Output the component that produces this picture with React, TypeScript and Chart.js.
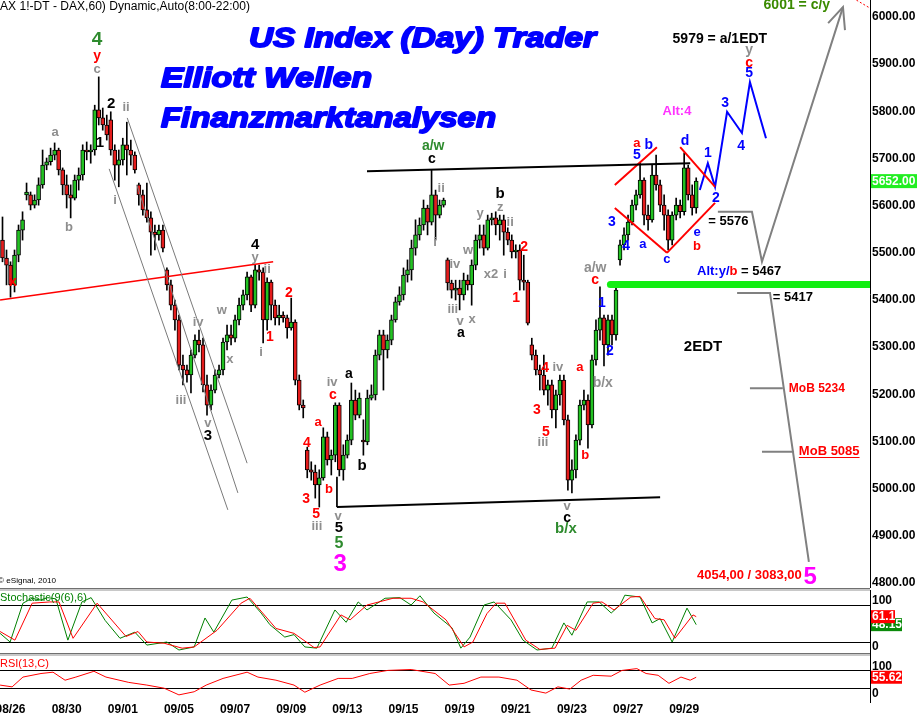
import React, { useEffect, useRef } from "react";
import { Chart, registerables } from "chart.js";

Chart.register(...registerables);

const FONT = "'Liberation Sans', Arial, Helvetica, sans-serif";

// ---------------- hourly DAX bars ----------------
const barOpen = [
  5527, 5489, 5474, 5432, 5495, 5548, 5623, 5623, 5601, 5612,
  5644, 5686, 5693, 5707, 5718, 5676, 5644, 5623, 5616, 5654,
  5665, 5718, 5714, 5718, 5803, 5786, 5771, 5782, 5718, 5686,
  5697, 5729, 5718, 5707, 5644, 5623, 5591, 5574, 5544, 5538,
  5548, 5464, 5432, 5389, 5358, 5262, 5252, 5241, 5283, 5315,
  5305, 5220, 5177, 5209, 5241, 5252, 5311, 5326, 5319, 5358,
  5389, 5411, 5449, 5389, 5464, 5459, 5358, 5438, 5389, 5362,
  5368, 5362, 5341, 5353, 5230, 5177, 5082, 5040, 5035, 5008,
  5023, 5110, 5061, 5071, 5177, 5040, 5071, 5103, 5188, 5156,
  5103, 5099, 5192, 5199, 5283, 5326, 5294, 5315, 5358, 5396,
  5411, 5453, 5464, 5510, 5538, 5559, 5595, 5565, 5623, 5580,
  5601, 5485, 5436, 5421, 5425, 5411, 5442, 5432, 5474, 5527,
  5538, 5510, 5570, 5574, 5559, 5570, 5544, 5527, 5502, 5506,
  5442, 5438, 5305, 5283, 5252, 5241, 5209, 5220, 5167, 5199,
  5230, 5146, 5018, 5040, 5103, 5177, 5188, 5135, 5273, 5336,
  5362, 5305, 5358, 5326, 5485, 5517, 5538, 5565, 5601, 5623,
  5654, 5580, 5570, 5665, 5644, 5601, 5580, 5527, 5580, 5601,
  5587, 5680, 5623, 5595,
];
const barHigh = [
  5576, 5506, 5481, 5506, 5559, 5587, 5648, 5629, 5623, 5659,
  5718, 5701, 5722, 5733, 5722, 5680, 5665, 5644, 5665, 5680,
  5729, 5735, 5729, 5813, 5873, 5807, 5792, 5799, 5729, 5718,
  5743, 5777, 5739, 5714, 5648, 5633, 5648, 5587, 5559, 5559,
  5559, 5468, 5442, 5400, 5368, 5283, 5262, 5294, 5326, 5336,
  5319, 5241, 5220, 5252, 5262, 5319, 5347, 5347, 5368, 5404,
  5421, 5459, 5453, 5474, 5474, 5468, 5447, 5442, 5400, 5389,
  5375, 5368, 5404, 5358, 5241, 5188, 5088, 5057, 5050, 5040,
  5129, 5120, 5082, 5182, 5182, 5093, 5114, 5224, 5209, 5203,
  5146, 5209, 5220, 5294, 5336, 5336, 5326, 5368, 5406, 5428,
  5468, 5485, 5527, 5570, 5574, 5612, 5601, 5676, 5633, 5612,
  5616, 5489, 5442, 5442, 5442, 5457, 5453, 5485, 5538, 5559,
  5559, 5580, 5584, 5587, 5580, 5580, 5553, 5538, 5517, 5517,
  5495, 5442, 5319, 5294, 5262, 5283, 5230, 5230, 5209, 5241,
  5241, 5156, 5061, 5114, 5188, 5209, 5199, 5283, 5358, 5428,
  5368, 5368, 5368, 5432, 5527, 5553, 5580, 5612, 5633, 5690,
  5659, 5601, 5686, 5707, 5654, 5623, 5591, 5587, 5616, 5612,
  5712, 5686, 5644, 5659,
];
const barLow = [
  5481, 5432, 5406, 5417, 5481, 5527, 5612, 5591, 5595, 5601,
  5637, 5676, 5686, 5697, 5665, 5623, 5595, 5574, 5612, 5633,
  5654, 5697, 5690, 5707, 5771, 5760, 5739, 5707, 5654, 5640,
  5686, 5665, 5686, 5669, 5601, 5580, 5565, 5495, 5506, 5527,
  5502, 5421, 5379, 5336, 5252, 5220, 5226, 5203, 5277, 5290,
  5205, 5156, 5167, 5203, 5235, 5241, 5294, 5305, 5311, 5347,
  5379, 5400, 5375, 5383, 5442, 5309, 5336, 5358, 5347, 5347,
  5353, 5319, 5336, 5220, 5167, 5150, 5023, 5018, 4980, 4961,
  5018, 5050, 5029, 5057, 5027, 5018, 5065, 5093, 5146, 5150,
  5071, 5093, 5188, 5188, 5273, 5209, 5277, 5305, 5353, 5389,
  5400, 5438, 5442, 5495, 5527, 5548, 5538, 5559, 5527, 5574,
  5597, 5421, 5404, 5400, 5379, 5400, 5421, 5389, 5464, 5510,
  5495, 5506, 5559, 5538, 5527, 5495, 5517, 5489, 5489, 5421,
  5421, 5347, 5273, 5241, 5209, 5199, 5177, 5150, 5129, 5177,
  5135, 4997, 4991, 5023, 5093, 5167, 5086, 5129, 5262, 5315,
  5260, 5283, 5305, 5315, 5474, 5506, 5527, 5559, 5591, 5616,
  5559, 5548, 5565, 5633, 5587, 5548, 5506, 5517, 5570, 5574,
  5580, 5612, 5580, 5584,
];
const barClose = [
  5489, 5474, 5432, 5495, 5548, 5570, 5629, 5601, 5612, 5644,
  5686, 5693, 5707, 5718, 5676, 5644, 5623, 5616, 5654, 5665,
  5718, 5714, 5718, 5803, 5786, 5771, 5750, 5718, 5686, 5697,
  5729, 5718, 5707, 5676, 5623, 5591, 5574, 5544, 5538, 5548,
  5510, 5432, 5389, 5358, 5262, 5252, 5241, 5283, 5315, 5305,
  5220, 5177, 5209, 5241, 5252, 5311, 5326, 5319, 5358, 5389,
  5411, 5449, 5389, 5464, 5459, 5358, 5438, 5389, 5362, 5368,
  5362, 5341, 5353, 5230, 5177, 5171, 5040, 5035, 5008, 5023,
  5110, 5061, 5071, 5177, 5040, 5071, 5103, 5188, 5156, 5192,
  5099, 5192, 5199, 5283, 5326, 5294, 5315, 5358, 5396, 5411,
  5453, 5464, 5510, 5538, 5559, 5595, 5565, 5623, 5580, 5601,
  5612, 5436, 5421, 5425, 5411, 5442, 5432, 5474, 5527, 5538,
  5510, 5570, 5574, 5559, 5570, 5544, 5527, 5502, 5506, 5442,
  5438, 5351, 5283, 5252, 5241, 5209, 5220, 5167, 5199, 5230,
  5146, 5018, 5040, 5103, 5177, 5188, 5135, 5273, 5336, 5362,
  5305, 5358, 5326, 5421, 5517, 5538, 5565, 5601, 5623, 5654,
  5580, 5570, 5665, 5644, 5601, 5580, 5527, 5580, 5601, 5587,
  5680, 5623, 5595, 5652,
];
const lastPrice = 5652;

const priceTicks = [4800, 4900, 5000, 5100, 5200, 5300, 5400, 5500, 5600, 5700, 5800, 5900, 6000];
const dateTickIdx = [2, 16, 30, 44, 58, 72, 86, 100, 114, 128, 142, 156, 170];
const dateTickLabels = ["08/26", "08/30", "09/01", "09/05", "09/07", "09/09", "09/13", "09/15", "09/19", "09/21", "09/23", "09/27", "09/29"];

// ---------------- indicators ----------------
const stochKIdx = [-0.6, 1.9, 5.1, 7.4, 9.4, 11.3, 13.3, 16.3, 19.8, 22.1, 25.6, 29.3, 33.0, 36.0, 41.0, 44.0, 47.8, 50.5, 52.7, 57.2, 61.0, 64.5, 66.7, 70.4, 72.7, 75.4, 78.4, 82.9, 85.7, 88.7, 90.9, 95.4, 99.1, 101.9, 104.1, 107.6, 112.1, 114.3, 116.6, 120.1, 122.6, 126.8, 129.8, 133.3, 137.0, 140.0, 142.0, 145.8, 148.8, 151.8, 154.0, 155.2, 159.0, 162.0, 164.0, 167.0, 170.7, 173.0];
const stochK = [34, 20, 83, 91, 88, 92, 90, 23, 85, 92, 55, 26, 36, 15, 20, 7, 12, 59, 36, 88, 93, 67, 48, 28, 32, 12, 10, 72, 52, 85, 72, 91, 92, 80, 95, 67, 43, 10, 28, 80, 85, 56, 23, 7, 10, 51, 31, 85, 85, 67, 80, 96, 93, 51, 58, 20, 75, 48.15];
const stochDIdx = [-0.6, 3.1, 7.4, 11.8, 14.1, 17.6, 23.6, 30.8, 33.8, 36.0, 40.3, 44.8, 47.8, 53.5, 59.5, 61.7, 68.2, 72.7, 77.7, 79.2, 84.4, 86.7, 90.9, 97.4, 101.9, 104.9, 110.6, 115.1, 117.3, 120.8, 123.1, 125.3, 130.5, 134.0, 137.8, 140.8, 143.0, 147.3, 149.5, 152.5, 156.7, 159.0, 162.7, 165.0, 167.7, 172.2, 173.0];
const stochD = [37, 23, 83, 85, 85, 26, 83, 29, 37, 20, 18, 10, 12, 39, 83, 91, 42, 34, 11, 12, 64, 56, 80, 91, 91, 85, 56, 12, 20, 66, 83, 83, 23, 8, 10, 47, 39, 83, 85, 72, 93, 94, 58, 56, 26, 64, 61.1];
const rsiIdx = [-0.6, 2.4, 5.1, 9.6, 12.6, 15.6, 18.3, 22.8, 25.8, 31.5, 36.0, 40.3, 44.0, 47.8, 50.8, 55.0, 61.0, 63.7, 68.2, 72.7, 75.4, 79.2, 83.7, 87.2, 91.6, 96.1, 101.9, 107.9, 111.4, 115.1, 119.3, 123.8, 128.3, 131.8, 135.5, 138.5, 141.5, 144.3, 147.3, 151.8, 154.5, 158.2, 160.5, 163.5, 166.2, 169.2, 171.5, 173.0];
const rsiVal = [38, 34, 56, 64, 67, 49, 56, 69, 56, 44, 38, 31, 16, 23, 38, 53, 67, 56, 49, 38, 22, 38, 53, 53, 64, 71, 73, 64, 38, 42, 56, 56, 49, 27, 20, 34, 29, 49, 60, 58, 71, 75, 64, 60, 42, 56, 49, 55.62];
const stochKLast = 48.15;
const stochDLast = 61.1;
const rsiLast = 55.62;

// ---------------- analysis lines (bar index, price) ----------------
const upperChannel = [[90.9, 5673], [171.5, 5690]];
const lowerChannel = [[83.4, 4961], [164.0, 4982]];
const lowerChannelTick = [[83.4, 5025], [83.4, 4961]];
const xLine = [[-0.6, 5400], [67.5, 5481]];
const fallA = [[26.6, 5678], [56.2, 4955]];
const fallB = [[31.1, 5786], [61.0, 5054]];
const fallC = [[33.5, 5644], [58.7, 4991]];
const triUL = [[152.7, 5644], [163.2, 5724]];
const triLL = [[152.7, 5595], [165.7, 5500]];
const triLR = [[165.7, 5500], [177.7, 5606]];
const triUR = [[169.0, 5724], [177.7, 5640]];
const bluePath = [[173.9, 5633], [175.9, 5690], [177.7, 5640], [180.7, 5799], [184.4, 5754], [186.4, 5862], [190.4, 5743]];
const upPath = [[178.4, 5587], [186.9, 5587], [189.4, 5481], [209.6, 6021]];
const arrowHead = [[205.9, 5987], [209.6, 6021], [210.1, 5972]];
const downPath = [[183.2, 5415], [191.4, 5415], [201.1, 4845]];
const mob1Tick = [[186.4, 5213], [194.6, 5213]];
const mob2Tick = [[189.4, 5078], [197.4, 5078]];
const supportBar = [[151.6, 5433], [218, 5433]];
const redDotted = [[212.1, 6040], [216.3, 6019]];

const X_MIN = -0.623;
const X_MAX = 216.34;
const PRICE_MIN = 4789.4;
const PRICE_MAX = 6036;

const GRAY = "#8e8e8e";
const RED = "#ff0000";
const BLK = "#000000";
const BLUE = "#0000ff";
const GRN = "#2e8b2e";
const MAG = "#ff00ff";

// text, bar index, price, colour, font size
const waveLabels: [string, number, number, string, number][] = [
  ["4", 23.6, 5951, GRN, 19], ["y", 23.6, 5917, RED, 14], ["c", 23.6, 5888, GRAY, 13],
  ["a", 13.1, 5756, GRAY, 13], ["b", 16.6, 5553, GRAY, 13],
  ["2", 27.1, 5816, BLK, 15], ["1", 24.3, 5733, BLK, 15],
  ["ii", 30.8, 5809, GRAY, 13], ["i", 28.1, 5612, GRAY, 13],
  ["x", 2.6, 5438, RED, 14],
  ["4", 63.0, 5517, BLK, 15], ["y", 63.0, 5491, GRAY, 13], ["ii", 66.0, 5464, GRAY, 13],
  ["2", 71.4, 5415, RED, 14], ["1", 66.7, 5322, RED, 14], ["i", 64.5, 5288, GRAY, 13],
  ["iv", 48.8, 5353, GRAY, 13], ["iii", 44.5, 5188, GRAY, 13], ["v", 51.2, 5139, GRAY, 13],
  ["3", 51.2, 5112, BLK, 15], ["w", 54.7, 5377, GRAY, 13], ["x", 56.7, 5275, GRAY, 13],
  ["4", 75.9, 5097, RED, 14], ["a", 78.7, 5141, RED, 13], ["3", 75.7, 4978, RED, 14],
  ["5", 78.2, 4946, RED, 14], ["iii", 78.4, 4919, GRAY, 13], ["b", 81.4, 4999, RED, 13],
  ["c", 82.4, 5199, RED, 14], ["iv", 82.2, 5226, GRAY, 13], ["v", 83.7, 4942, GRAY, 13],
  ["5", 83.9, 4917, BLK, 15], ["5", 83.9, 4883, GRN, 16], ["3", 84.2, 4840, MAG, 24],
  ["a", 86.4, 5243, BLK, 14], ["b", 89.7, 5048, BLK, 15],
  ["a/w", 107.4, 5726, GRN, 14], ["c", 107.1, 5699, BLK, 14], ["ii", 109.4, 5637, GRAY, 13],
  ["i", 107.9, 5521, GRAY, 13], ["iv", 112.8, 5476, GRAY, 13], ["iii", 112.3, 5381, GRAY, 13],
  ["v", 114.1, 5355, GRAY, 13], ["a", 114.3, 5330, BLK, 14], ["x", 117.1, 5358, GRAY, 13],
  ["w", 116.1, 5506, GRAY, 13], ["y", 119.1, 5584, GRAY, 13], ["x2", 121.8, 5455, GRAY, 13],
  ["i", 125.3, 5455, GRAY, 13], ["z", 124.1, 5597, GRAY, 13], ["b", 124.1, 5625, BLK, 15],
  ["ii", 126.6, 5565, GRAY, 13], ["2", 130.1, 5512, RED, 14], ["1", 128.1, 5404, RED, 14],
  ["4", 135.3, 5256, RED, 14], ["iv", 138.5, 5258, GRAY, 13], ["3", 133.3, 5167, RED, 14],
  ["5", 135.5, 5120, RED, 14], ["iii", 134.8, 5097, GRAY, 13], ["v", 140.8, 4963, GRAY, 13],
  ["c", 140.8, 4938, BLK, 14], ["b/x", 140.5, 4915, GRN, 15],
  ["a", 144.0, 5256, RED, 13], ["b", 145.3, 5071, RED, 13],
  ["a/w", 147.8, 5468, GRAY, 14], ["c", 147.8, 5442, RED, 14], ["1", 149.5, 5394, BLUE, 14],
  ["2", 151.5, 5292, BLUE, 14], ["b/x", 149.7, 5224, GRAY, 14],
  ["3", 152.0, 5565, BLUE, 14], ["4", 155.5, 5514, BLUE, 14], ["5", 158.2, 5707, BLUE, 14],
  ["a", 158.2, 5731, RED, 13], ["b", 161.2, 5729, BLUE, 14], ["a", 159.7, 5517, BLUE, 13],
  ["c", 165.7, 5485, BLUE, 13], ["d", 170.2, 5737, BLUE, 14], ["e", 173.2, 5544, BLUE, 13],
  ["b", 173.2, 5514, RED, 13],
  ["1", 175.9, 5712, BLUE, 14], ["2", 177.9, 5616, BLUE, 14], ["3", 180.2, 5818, BLUE, 14],
  ["4", 184.2, 5726, BLUE, 14], ["5", 186.2, 5881, BLUE, 14], ["c", 186.2, 5903, RED, 14],
  ["y", 186.2, 5930, GRAY, 14],
  ["Alt:4", 168.2, 5799, "#ff33ff", 13],
  ["5979 = a/1EDT", 178.9, 5953, BLK, 14],
  ["6001 = c/y", 198.1, 6025, "#3a8a00", 14],
  ["2EDT", 174.7, 5300, BLK, 15],
  ["5", 201.4, 4811, MAG, 24],
];

// left-aligned notes: text parts, bar index, price, size, underline
const notes: { parts: [string, string][]; i: number; p: number; s: number; u?: boolean }[] = [
  { parts: [["= 5576", BLK]], i: 176.0, p: 5567, s: 13 },
  { parts: [["Alt:y/", BLUE], ["b", RED], [" = 5467", BLK]], i: 173.2, p: 5461, s: 13 },
  { parts: [["= 5417", BLK]], i: 192.1, p: 5406, s: 13 },
  { parts: [["MoB 5234", RED]], i: 196.1, p: 5213, s: 12 },
  { parts: [["MoB 5085", RED]], i: 198.6, p: 5080, s: 13, u: true },
  { parts: [["4054,00 / 3083,00", RED]], i: 173.2, p: 4817, s: 13 },
];

const UP = "#22c222";
const DOWN = "#e41c1c";

function pts(a: number[][]) {
  return a.map(([x, y]) => ({ x, y }));
}
function lineDs(a: number[][], color: string, width: number, extra: any = {}) {
  return {
    type: "line",
    data: pts(a),
    borderColor: color,
    borderWidth: width,
    pointRadius: 0,
    fill: false,
    tension: 0,
    order: 0,
    ...extra,
  };
}

function fitText(ctx: CanvasRenderingContext2D, text: string, x: number, y: number, width: number, stroke = 0) {
  const w = ctx.measureText(text).width;
  ctx.save();
  ctx.translate(x, y);
  ctx.scale(width / w, 1);
  if (stroke > 0) {
    ctx.lineWidth = stroke;
    ctx.lineJoin = "round";
    ctx.strokeText(text, 0, 0);
  }
  ctx.fillText(text, 0, 0);
  ctx.restore();
}

function rightAxisFit(w: number) {
  return (scale: any) => {
    scale.width = w;
    scale.paddingTop = 0;
    scale.paddingBottom = 0;
  };
}

const mainOverlay = {
  id: "mainOverlay",
  afterDraw(chart: any) {
    const ctx: CanvasRenderingContext2D = chart.ctx;
    const xs = chart.scales.x;
    const ys = chart.scales.y;
    ctx.save();
    // header
    ctx.fillStyle = "#000";
    ctx.textAlign = "left";
    ctx.textBaseline = "middle";
    ctx.font = `12px ${FONT}`;
    fitText(ctx, "AX 1!-DT - DAX,60) Dynamic,Auto(8:00-22:00)", 0, 6.5, 250);
    ctx.font = `8px ${FONT}`;
    fitText(ctx, "\u00a9 eSignal, 2010", -2, 581, 58);
    // titles
    ctx.fillStyle = "#0000ff";
    ctx.strokeStyle = "#0000ff";
    ctx.textBaseline = "alphabetic";
    ctx.font = `italic bold 28px ${FONT}`;
    fitText(ctx, "US Index (Day) Trader", 249, 47, 347, 1.8);
    fitText(ctx, "Elliott Wellen", 161, 87, 211, 1.8);
    fitText(ctx, "Finanzmarktanalysen", 161, 127, 335, 1.8);
    // wave labels
    ctx.textAlign = "center";
    ctx.textBaseline = "middle";
    for (const [t, i, p, c, s] of waveLabels) {
      ctx.font = `bold ${s}px ${FONT}`;
      ctx.fillStyle = c;
      ctx.fillText(t, xs.getPixelForValue(i), ys.getPixelForValue(p));
    }
    // notes
    ctx.textAlign = "left";
    for (const n of notes) {
      ctx.font = `bold ${n.s}px ${FONT}`;
      let x = xs.getPixelForValue(n.i);
      const y = ys.getPixelForValue(n.p);
      const x0 = x;
      for (const [t, c] of n.parts) {
        ctx.fillStyle = c;
        ctx.fillText(t, x, y);
        x += ctx.measureText(t).width;
      }
      if (n.u) {
        ctx.strokeStyle = n.parts[0][1];
        ctx.lineWidth = 1;
        ctx.beginPath();
        ctx.moveTo(x0, Math.round(y + 6) + 0.5);
        ctx.lineTo(x, Math.round(y + 6) + 0.5);
        ctx.stroke();
      }
    }
    // last price box
    const yp = ys.getPixelForValue(lastPrice);
    ctx.fillStyle = "#22ee22";
    ctx.fillRect(871, yp - 7, 46, 14);
    ctx.fillStyle = "#ffffff";
    ctx.font = `bold 12px ${FONT}`;
    ctx.fillText(lastPrice.toFixed(2), 872, yp + 0.5);
    ctx.restore();
  },
};

function panelOverlay(title: string, titleColor: string, titleDy: number, topDy: number, botDy: number, boxes: { v: number; c: string; w: number }[]) {
  return {
    id: "panelOverlay",
    afterDraw(chart: any) {
      const ctx: CanvasRenderingContext2D = chart.ctx;
      const area = chart.chartArea;
      const ys = chart.scales.y;
      ctx.save();
      ctx.textAlign = "left";
      ctx.textBaseline = "middle";
      ctx.font = `11px ${FONT}`;
      ctx.fillStyle = titleColor;
      ctx.fillText(title, 0, area.top + titleDy);
      ctx.font = `bold 12px ${FONT}`;
      ctx.fillStyle = "#000";
      ctx.fillText("100", area.right + 2, area.top + topDy);
      ctx.fillText("0", area.right + 2, area.bottom - botDy);
      for (const b of boxes) {
        const y = ys.getPixelForValue(b.v);
        ctx.fillStyle = b.c;
        ctx.fillRect(area.right + 1, y - 6.5, b.w, 13);
        ctx.fillStyle = "#fff";
        ctx.fillText(String(b.v), area.right + 2, y + 0.5);
      }
      ctx.restore();
    },
  };
}

function mainConfig(): any {
  const wick = barClose.map((_, i) => ({ x: i, y: [barLow[i], barHigh[i]] }));
  const body = barClose.map((_, i) => ({ x: i, y: [barOpen[i], barClose[i]] }));
  const colors = barClose.map((c, i) => (c >= barOpen[i] ? UP : DOWN));
  return {
    type: "bar",
    data: {
      datasets: [
        { type: "bar", data: wick, backgroundColor: "#000", borderWidth: 0, barThickness: 1, grouped: false, order: 3 },
        {
          type: "bar",
          data: body,
          backgroundColor: colors,
          borderColor: "#000",
          borderWidth: 1,
          borderSkipped: false,
          barThickness: 4,
          grouped: false,
          order: 2,
        },
        lineDs(fallA, "#7a7a7a", 1),
        lineDs(fallB, "#7a7a7a", 1),
        lineDs(fallC, "#7a7a7a", 1),
        lineDs(xLine, "#ff0000", 1.5),
        lineDs(upperChannel, "#000", 2),
        lineDs(lowerChannel, "#000", 2),
        lineDs(lowerChannelTick, "#000", 1),
        lineDs(triUL, "#ff0000", 2),
        lineDs(triLL, "#ff0000", 2),
        lineDs(triLR, "#ff0000", 2),
        lineDs(triUR, "#ff0000", 2),
        lineDs(bluePath, "#0000ff", 2),
        lineDs(upPath, "#808080", 2),
        lineDs(arrowHead, "#808080", 2),
        lineDs(downPath, "#808080", 2),
        lineDs(mob1Tick, "#808080", 2),
        lineDs(mob2Tick, "#808080", 2),
        lineDs(supportBar, "#11ee11", 7, { borderCapStyle: "round" }),
        lineDs(redDotted, "#ff0000", 1, { borderDash: [2, 2] }),
      ],
    },
    options: {
      responsive: false,
      maintainAspectRatio: false,
      animation: false,
      devicePixelRatio: 1,
      events: [],
      layout: { padding: 0 },
      plugins: { legend: { display: false }, tooltip: { enabled: false } },
      scales: {
        x: { type: "linear", min: X_MIN, max: X_MAX, display: false, offset: false },
        y: {
          type: "linear",
          position: "right",
          min: PRICE_MIN,
          max: PRICE_MAX,
          grid: { display: false, drawTicks: false, tickLength: 0 },
          border: { display: true, color: "#000", width: 1 },
          afterBuildTicks: (s: any) => {
            s.ticks = priceTicks.map((v) => ({ value: v }));
          },
          afterFit: rightAxisFit(47),
          ticks: {
            padding: 2,
            color: "#000",
            font: { family: FONT, size: 12, weight: "bold" },
            callback: (v: any) => Number(v).toFixed(2),
          },
        },
      },
    },
    plugins: [mainOverlay],
  };
}

function panelConfig(kind: "stoch" | "rsi"): any {
  const isStoch = kind === "stoch";
  const datasets = isStoch
    ? [
        { type: "line", data: stochKIdx.map((x, i) => ({ x, y: stochK[i] })), borderColor: "#008000", borderWidth: 1, pointRadius: 0, tension: 0, order: 1 },
        { type: "line", data: stochDIdx.map((x, i) => ({ x, y: stochD[i] })), borderColor: "#ff0000", borderWidth: 1, pointRadius: 0, tension: 0, order: 0 },
      ]
    : [{ type: "line", data: rsiIdx.map((x, i) => ({ x, y: rsiVal[i] })), borderColor: "#ff0000", borderWidth: 1, pointRadius: 0, tension: 0 }];
  const levels = isStoch ? [20, 80] : [30, 70];
  return {
    type: "line",
    data: { datasets },
    options: {
      responsive: false,
      maintainAspectRatio: false,
      animation: false,
      devicePixelRatio: 1,
      events: [],
      layout: { padding: 0 },
      plugins: { legend: { display: false }, tooltip: { enabled: false } },
      scales: {
        x: isStoch
          ? { type: "linear", min: X_MIN, max: X_MAX, display: false }
          : {
              type: "linear",
              min: X_MIN,
              max: X_MAX,
              grid: { display: false, drawTicks: false, tickLength: 0 },
              border: { display: false },
              afterBuildTicks: (s: any) => {
                s.ticks = dateTickIdx.map((v) => ({ value: v }));
              },
              afterFit: (s: any) => {
                s.height = 20;
                s.paddingLeft = 0;
                s.paddingRight = 0;
              },
              ticks: {
                autoSkip: false,
                maxRotation: 0,
                minRotation: 0,
                padding: 0,
                color: "#000",
                font: { family: FONT, size: 12, weight: "bold" },
                callback: (_v: any, i: number) => dateTickLabels[i],
              },
            },
        y: {
          type: "linear",
          position: "right",
          min: isStoch ? -1.1 : 0,
          max: isStoch ? 104.4 : 105.6,
          grid: { display: true, color: "#000", lineWidth: 1, drawTicks: false, tickLength: 0 },
          border: { display: true, color: "#000", width: 1 },
          afterBuildTicks: (s: any) => {
            s.ticks = levels.map((v) => ({ value: v }));
          },
          afterFit: rightAxisFit(47),
          ticks: { display: false },
        },
      },
    },
    plugins: [
      isStoch
        ? panelOverlay("Stochastic(9(6),6)", "#008000", 8, 11, 8, [
            { v: stochKLast, c: "#0a8a0a", w: 31 },
            { v: stochDLast, c: "#ff0000", w: 24 },
          ])
        : panelOverlay("RSI(13,C)", "#ff0000", 9, 12, 8, [{ v: rsiLast, c: "#ff0000", w: 31 }]),
    ],
  };
}

export default function App() {
  const mainRef = useRef<HTMLCanvasElement>(null);
  const stochRef = useRef<HTMLCanvasElement>(null);
  const rsiRef = useRef<HTMLCanvasElement>(null);

  useEffect(() => {
    document.body.style.margin = "0";
    const c1 = new Chart(mainRef.current as HTMLCanvasElement, mainConfig());
    const c2 = new Chart(stochRef.current as HTMLCanvasElement, panelConfig("stoch"));
    const c3 = new Chart(rsiRef.current as HTMLCanvasElement, panelConfig("rsi"));
    return () => {
      c1.destroy();
      c2.destroy();
      c3.destroy();
    };
  }, []);

  const sep: React.CSSProperties = {
    position: "absolute",
    left: 0,
    width: 870,
    height: 3,
    background: "#c8c8c8",
    borderTop: "1px solid #707070",
    boxSizing: "border-box",
  };

  return (
    <div style={{ position: "relative", width: 917, height: 722, background: "#fff", overflow: "hidden" }}>
      <canvas ref={mainRef} width={917} height={588} style={{ position: "absolute", left: 0, top: 0 }} />
      <canvas ref={stochRef} width={917} height={65} style={{ position: "absolute", left: 0, top: 590 }} />
      <canvas ref={rsiRef} width={917} height={67} style={{ position: "absolute", left: 0, top: 655 }} />
      <div style={{ ...sep, top: 588 }} />
      <div style={{ ...sep, top: 653 }} />
    </div>
  );
}
